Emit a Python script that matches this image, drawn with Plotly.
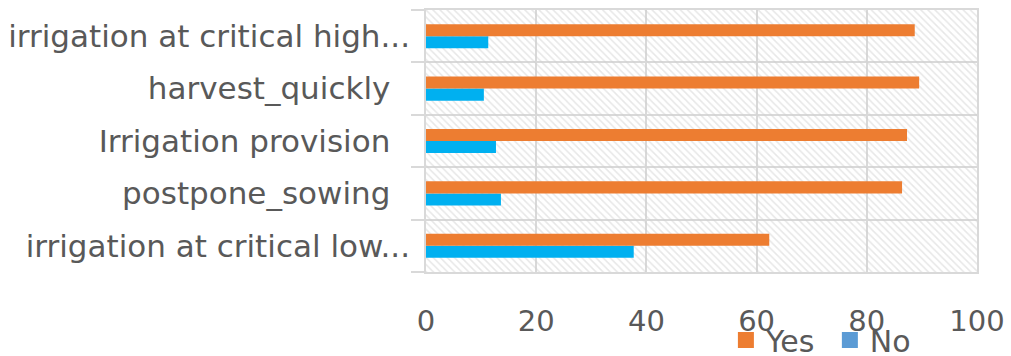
import plotly.graph_objects as go

categories = ["irrigation at critical low...", "postpone_sowing\u00a0\u00a0", "Irrigation provision\u00a0\u00a0",
              "harvest_quickly\u00a0\u00a0", "irrigation at critical high..."]
yes_vals = [62.3, 86.4, 87.3, 89.5, 88.7]
no_vals = [37.7, 13.6, 12.7, 10.5, 11.3]
x_ticks = [0, 20, 40, 60, 80, 100]

ypos = list(range(len(categories)))
FONT = "DejaVu Sans"
GRAY = "#595959"
GRID = "#d9d9d9"

fig = go.Figure()
fig.add_trace(go.Scatter(
    x=[0, 100, 100, 0, 0], y=[-0.5, -0.5, 4.5, 4.5, -0.5],
    fill="toself", mode="lines", line=dict(width=0),
    fillcolor="rgba(0,0,0,0)",
    fillpattern=dict(shape="\\", fgcolor="#cfcfcf", bgcolor="rgba(0,0,0,0)", size=5, solidity=0.3),
    showlegend=False, hoverinfo="skip"))
fig.add_trace(go.Bar(y=ypos, x=no_vals, orientation="h", name="No", xaxis="x2", yaxis="y2",
                     marker=dict(color="#00B0F0", line=dict(width=0)), showlegend=False))
fig.add_trace(go.Bar(y=ypos, x=yes_vals, orientation="h", name="Yes", xaxis="x2", yaxis="y2",
                     marker=dict(color="#ED7D31", line=dict(width=0)), showlegend=False))
fig.add_trace(go.Scatter(x=[None], y=[None], mode="markers", name="No",
                         marker=dict(symbol="square", size=18, color="#5B9BD5")))
fig.add_trace(go.Scatter(x=[None], y=[None], mode="markers", name="Yes\u00a0",
                         marker=dict(symbol="square", size=18, color="#ED7D31")))

fig.update_layout(
    width=1011, height=356,
    margin=dict(l=426, r=34, t=10, b=84, autoexpand=False),
    paper_bgcolor="white", plot_bgcolor="white",
    barmode="group", bargap=0.54, bargroupgap=0,
    font=dict(family=FONT, size=28, color=GRAY),
    legend=dict(orientation="h", traceorder="reversed", x=0.718, xref="container", xanchor="left",
                y=0.118, yref="container", yanchor="top", bgcolor="rgba(0,0,0,0)",
                font=dict(family=FONT, size=30, color=GRAY),
                itemwidth=30, tracegroupgap=0),
    shapes=[dict(type="rect", xref="paper", yref="paper", layer="above",
                 x0=(733 - 426) / 551, x1=(930 - 426) / 551,
                 y0=(272 - 331) / 262, y1=(272 - 362) / 262,
                 fillcolor="white", line=dict(width=0))],
    xaxis=dict(range=[0, 100], tickvals=x_ticks, showgrid=True, gridcolor=GRID, gridwidth=1.5,
               zeroline=False, showline=True, linecolor=GRID, linewidth=1.5, mirror=True,
               ticks="", ticklabelstandoff=22, tickfont=dict(size=29, color=GRAY), automargin=False),
    yaxis=dict(range=[-0.5, 4.5], tickvals=ypos, ticktext=categories, showgrid=False,
               zeroline=False, showline=True, linecolor=GRID, linewidth=1.5, mirror=True,
               ticks="", ticklabelstandoff=8, tickfont=dict(size=31, color=GRAY), automargin=False,
               minor=dict(tickvals=[-0.5, 0.5, 1.5, 2.5, 3.5, 4.5], showgrid=True,
                          gridcolor=GRID, gridwidth=1.5, ticks="outside", ticklen=13,
                          tickcolor=GRID, tickwidth=1.5)),
    xaxis2=dict(range=[0, 100], overlaying="x", visible=False),
    yaxis2=dict(range=[-0.5, 4.5], overlaying="y", visible=False),
)
fig.write_html("out.html")
